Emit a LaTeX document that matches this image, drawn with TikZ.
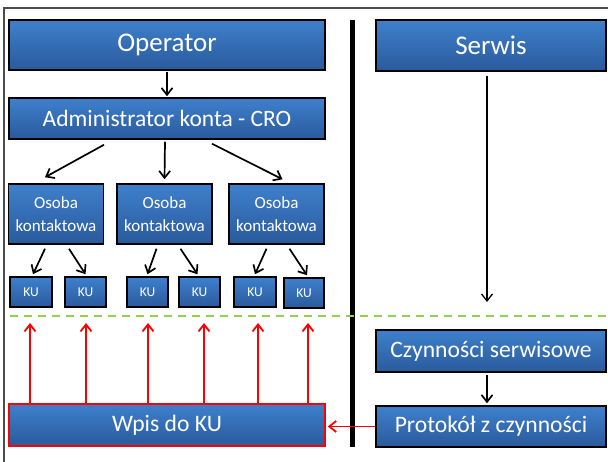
\documentclass[tikz,border=0pt]{standalone}
\usepackage{fontspec}
\setmainfont{Carlito}
\usetikzlibrary{arrows.meta,positioning}
\definecolor{boxtop}{RGB}{62,128,205}
\definecolor{boxbot}{RGB}{42,90,155}
\definecolor{dashgreen}{RGB}{146,208,80}
\tikzstyle{block} = [draw=black,line width=1.5pt,rectangle,top color=boxtop,bottom color=boxbot,text=white,inner sep=0,align=center]
\tikzstyle{wide} = [block,minimum width=316pt]
\tikzstyle{side} = [block,minimum width=230pt]
\tikzstyle{person} = [block,minimum width=95pt,minimum height=60pt,font=\fontsize{17}{23}\selectfont]
\tikzstyle{kubox} = [block,minimum width=42pt,minimum height=30pt,font=\fontsize{13.5}{15}\selectfont]
\tikzstyle{link} = [-{Straight Barb[length=7pt,width=11pt]},line width=1.7pt]
\tikzstyle{feed} = [link,red,line width=1.8pt]
\def \bigfont {\fontsize{27}{30}\selectfont}
\def \midfont {\fontsize{23.6}{26}\selectfont}

\begin{document}
\begin{tikzpicture}[x=1pt,y=-1pt]
      \useasboundingbox (0,0) rectangle (608,462);
      % frame and separators
      \draw[black!70,line width=1.6pt] (4,462) -- (4,8) -- (608,8);
      \draw[line width=5pt] (352,20) -- (352,447);
      \coordinate (split) at (10,316);
      \coordinate (splitend) at (608,316);
      \draw[dashgreen,line width=1.6pt,dash pattern=on 8pt off 6pt] (split) -- (splitend);
      % operator side
      \node[wide,minimum height=50pt,font=\bigfont] (op) at (167,45) {Operator};
      \node[wide,minimum height=41pt,font=\fontsize{23.5}{26}\selectfont] (cro) at (167,118.5) {Administrator konta - CRO};
      \node[person] (os1) at (56,214) {Osoba\\kontaktowa};
      \node[person] (os2) at (164.5,214) {Osoba\\kontaktowa};
      \node[person] (os3) at (276.5,214) {Osoba\\kontaktowa};
      \node[kubox] (ku1) at (31,292) {KU};
      \node[kubox,minimum width=41pt] (ku2) at (85.5,292) {KU};
      \node[kubox,minimum width=41pt] (ku3) at (147.5,292) {KU};
      \node[kubox,minimum width=41pt] (ku4) at (199.5,292) {KU};
      \node[kubox] (ku5) at (255,292) {KU};
      \node[kubox,minimum width=40pt] (ku6) at (304,293) {KU};
      \node[wide,draw=red,minimum height=42pt,font=\midfont] (wpis) at (167,425) {Wpis do KU};
      \draw[link] ([shift={(0,1)}]op.south) -- ([shift={(0,-1)}]cro.north);
      \draw[link] ([shift={(-63,5)}]cro.south) -- ([shift={(-11,-6)}]os1.north);
      \draw[link] ([shift={(-2,2)}]cro.south) -- ([shift={(0,-4)}]os2.north);
      \draw[link] ([shift={(45,4)}]cro.south) -- ([shift={(6,-4)}]os3.north);
      \draw[link] ([shift={(-11,4)}]os1.south) -- ([shift={(2,-2)}]ku1.north);
      \draw[link] ([shift={(13,4)}]os1.south) -- ([shift={(0,-2)}]ku2.north);
      \draw[link] ([shift={(-8,4)}]os2.south) -- ([shift={(0,-2)}]ku3.north);
      \draw[link] ([shift={(16,4)}]os2.south) -- ([shift={(-2,-2)}]ku4.north);
      \draw[link] ([shift={(-10,4)}]os3.south) -- ([shift={(0,-2)}]ku5.north);
      \draw[link] ([shift={(13,4)}]os3.south) -- ([shift={(3,-2)}]ku6.north);
      \foreach \k/\dx in {ku1/-1,ku2/0.5,ku3/0.5,ku4/4.5,ku5/3,ku6/4}
        \draw[feed] ([xshift=\dx pt]wpis.north -| \k) -- ([shift={(\dx,7)}]split -| \k);
      % service side
      \node[side,minimum height=51pt,font=\bigfont] (srv) at (491,45.5) {Serwis};
      \node[side,minimum height=42pt,font=\midfont] (czyn) at (491,351) {Czynności serwisowe};
      \node[side,minimum height=41pt,font=\midfont] (prot) at (491,426.5) {Protokół z czynności};
      \draw[link,line width=1.3pt] ([shift={(-4,4)}]srv.south) -- ([shift={(-4,-14)}]split -| srv);
      \draw[link] ([shift={(-4,2)}]czyn.south) -- ([shift={(-4,-2)}]prot.north);
      \draw[feed] (prot.west) -- ([xshift=2pt]prot.west -| wpis.east);
\end{tikzpicture}
\end{document}
